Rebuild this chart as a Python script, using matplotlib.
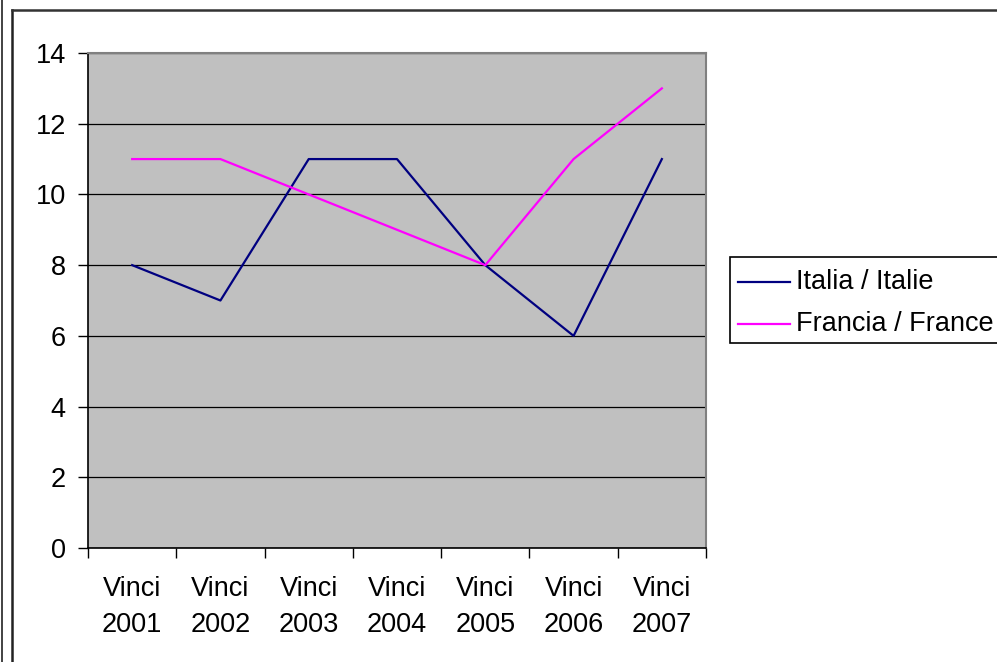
import matplotlib
matplotlib.use("Agg")
import matplotlib.pyplot as plt
from matplotlib.lines import Line2D
from matplotlib.patches import Rectangle

categories = ["Vinci\n2001", "Vinci\n2002", "Vinci\n2003", "Vinci\n2004",
              "Vinci\n2005", "Vinci\n2006", "Vinci\n2007"]
italia = [8, 7, 11, 11, 8, 6, 11]
francia = [11, 11, 10, 9, 8, 11, 13]
series_names = ["Italia / Italie", "Francia / France"]
yticks = [0, 2, 4, 6, 8, 10, 12, 14]

plt.rcParams['font.family'] = ['Liberation Sans', 'DejaVu Sans']
FS = 19.5

W, H = 997, 662
fig = plt.figure(figsize=(W / 100, H / 100), dpi=100)
fig.patch.set_facecolor('white')

# outer frame lines
fig.add_artist(Line2D([11.5 / W, 11.5 / W], [0, 1 - 10 / H], color='#222222', lw=1.8, transform=fig.transFigure))
fig.add_artist(Line2D([11.5 / W, 1], [1 - 10 / H, 1 - 10 / H], color='#333333', lw=1.8, transform=fig.transFigure))
fig.add_artist(Line2D([1.5 / W, 1.5 / W], [0, 1], color='#222222', lw=1.2, transform=fig.transFigure))

left, right, top, bottom = 88, 706, 53, 548
ax = fig.add_axes([left / W, 1 - bottom / H, (right - left) / W, (bottom - top) / H])
ax.set_facecolor('#C0C0C0')

x = list(range(len(categories)))
ax.plot(x, italia, color='#000080', lw=1.6, label=series_names[0], zorder=3)
ax.plot(x, francia, color='#FF00FF', lw=1.6, label=series_names[1], zorder=3)

ax.set_xlim(-0.5, len(categories) - 0.5)
ax.set_ylim(0, 14)
ax.set_yticks(yticks)
ax.set_yticklabels([str(v) for v in yticks], fontsize=FS)
ax.yaxis.grid(True, color='black', lw=0.9)
ax.set_axisbelow(True)

# category labels at centers, tick marks at boundaries
ax.set_xticks([i - 0.5 for i in range(len(categories) + 1)])
ax.set_xticklabels([])
ax.set_xticks(x, minor=True)
ax.set_xticklabels(categories, minor=True, fontsize=FS, linespacing=1.5)
ax.tick_params(axis='x', which='minor', length=0, pad=20)
ax.tick_params(axis='x', which='major', length=7, width=1, direction='out', color='black')
ax.tick_params(axis='y', length=7, width=1, direction='out', pad=9, color='black')

for s in ['left', 'bottom']:
    ax.spines[s].set_color('black')
    ax.spines[s].set_linewidth(1.2)
for s in ['top', 'right']:
    ax.spines[s].set_color('#808080')
    ax.spines[s].set_linewidth(1.5)

# legend box
fig.add_artist(Rectangle((730 / W, 1 - 343 / H), (W + 5 - 730) / W, (343 - 257) / H,
                         transform=fig.transFigure, facecolor='white', edgecolor='black', lw=1.2))
for i, (name, col) in enumerate(zip(series_names, ['#000080', '#FF00FF'])):
    yy = 1 - (282 + i * 42) / H
    fig.add_artist(Line2D([738 / W, 790 / W], [yy, yy], color=col, lw=1.6, transform=fig.transFigure))
    fig.text(796 / W, yy, name, fontsize=FS, va='center', ha='left')

fig.savefig('out.png', dpi=100)
